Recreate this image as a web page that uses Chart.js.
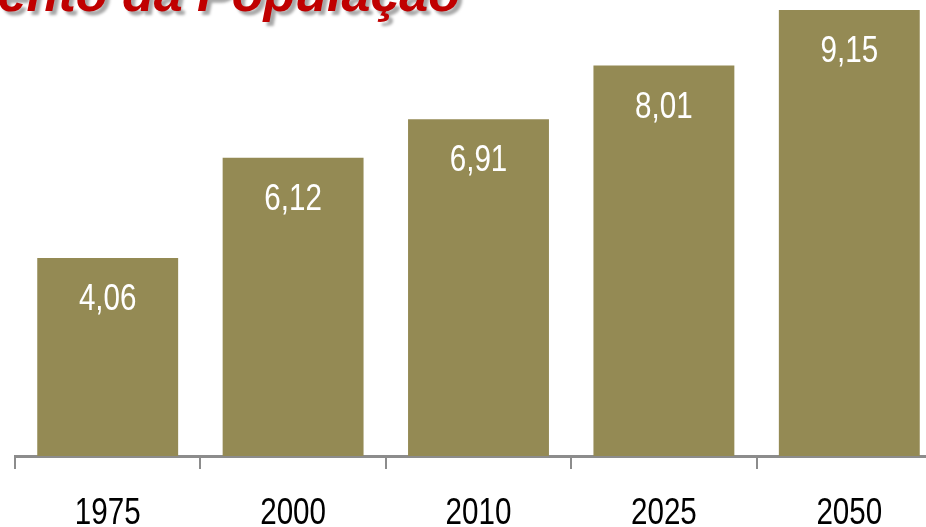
<!DOCTYPE html>
<html>
<head>
<meta charset="utf-8">
<script src="https://cdn.jsdelivr.net/npm/chart.js@4.4.0/dist/chart.umd.min.js"></script>
<style>
  html, body { margin: 0; padding: 0; width: 926px; height: 527px; overflow: hidden; background: #fff; }
  #wrap { position: absolute; left: 0; top: 0; width: 942px; height: 527px; }
  #title {
    position: absolute; right: calc(926px - 460px); top: -33px;
    font-family: "Liberation Sans", Arial, sans-serif; font-weight: bold; font-style: italic;
    font-size: 52px; line-height: 52px; color: #c00000; white-space: nowrap;
    text-shadow: 4px 4px 3px rgba(0,0,0,0.35);
  }
</style>
</head>
<body>
<div id="wrap"><canvas id="myChart" width="942" height="527"></canvas></div>
<div id="title">Crescimento da População</div>
<script>
const years = ['1975', '2000', '2010', '2025', '2050'];
const population = [4.06, 6.12, 6.91, 8.01, 9.15];
const valueLabels = ['4,06', '6,12', '6,91', '8,01', '9,15'];

const labelFont = '37px "Liberation Sans", Arial, sans-serif';

// condensed text helper (reference font is narrow)
function narrowText(ctx, txt, x, y) {
    ctx.save();
    ctx.translate(x, y);
    ctx.scale(0.8, 1);
    ctx.fillText(txt, 0, 0);
    ctx.restore();
}

const barLabels = {
    id: 'barLabels',
    afterDraw(chart) {
        const ctx = chart.ctx;
        const meta = chart.getDatasetMeta(0);
        const xs = chart.scales.x;
        ctx.save();
        ctx.font = labelFont;
        ctx.textAlign = 'center';
        ctx.textBaseline = 'middle';
        ctx.fillStyle = '#ffffff';
        meta.data.forEach((bar, i) => {
            narrowText(ctx, valueLabels[i], bar.x, bar.y + 42);
        });
        ctx.fillStyle = '#000000';
        years.forEach((y, i) => {
            narrowText(ctx, y, xs.getPixelForTick(i), 514);
        });
        ctx.restore();
    }
};

new Chart(document.getElementById('myChart'), {
    type: 'bar',
    data: {
        labels: years,
        datasets: [{
            data: population,
            backgroundColor: '#948a54',
            borderWidth: 0,
            barPercentage: 0.76,
            categoryPercentage: 1
        }]
    },
    options: {
        responsive: false,
        animation: false,
        layout: { padding: { left: 15, right: 0, top: 0, bottom: 0 } },
        plugins: { legend: { display: false }, tooltip: { enabled: false } },
        scales: {
            y: { display: false, min: 0, max: 9.355 },
            x: {
                border: { display: true, color: '#8c8c8c', width: 3 },
                grid: { display: true, drawOnChartArea: false, drawTicks: true, tickLength: 13, color: '#8c8c8c', lineWidth: 2, offset: true },
                ticks: { display: false },
                afterFit(scale) { scale.height = 71; }
            }
        }
    },
    plugins: [barLabels]
});
</script>
</body>
</html>
